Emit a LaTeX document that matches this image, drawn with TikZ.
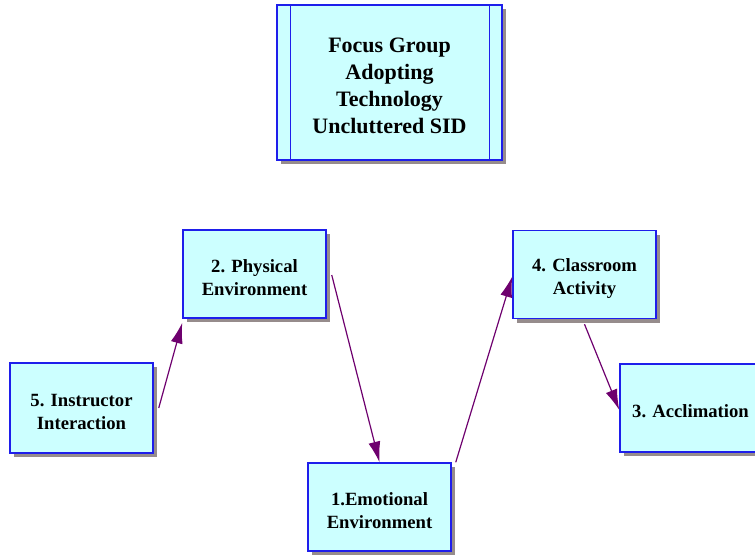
\documentclass[tikz,border=0pt]{standalone}
\usepackage{fontspec}
\setmainfont{Liberation Serif}
\usetikzlibrary{calc,shadows,arrows.meta}
\definecolor{boxfill}{RGB}{204,255,255}
\definecolor{boxline}{RGB}{30,30,235}
\definecolor{shade}{RGB}{150,140,140}
\definecolor{link}{RGB}{110,0,110}
\tikzset{
  sidbox/.style={draw=boxline, line width=1.1pt, fill=boxfill,
    minimum width=107.25pt, minimum height=66pt, align=center, inner sep=0pt,
    drop shadow={shadow xshift=3pt, shadow yshift=-3pt, fill=shade, opacity=1}},
  titlebox/.style={sidbox, minimum width=168.75pt, minimum height=116.25pt},
  flow/.style={draw=link, line width=0.9pt, -{Latex[length=15.5pt,width=9pt]}},
  lbl/.style={align=center, inner sep=0pt}
}
\begin{document}
\begin{tikzpicture}[x=0.75pt,y=-0.75pt]
\useasboundingbox (0,0) rectangle (755,554);
\clip (0,0) rectangle (755,554);

% title box with inner side rules
\node[titlebox] (title) at (389.5,82.5) {};
\node[lbl, font=\bfseries\fontsize{16.5}{20.25}\selectfont] (titletext) at ($(title.center)+(0,3)$) {Focus Group\\Adopting\\Technology\\Uncluttered SID};
\draw[boxline, line width=1.1pt] ($(title.north west)+(14,0)$) -- ($(title.south west)+(14,0)$);
\draw[boxline, line width=1.1pt] ($(title.north east)+(-13,0)$) -- ($(title.south east)+(-13,0)$);

% factor boxes (labels sit slightly below centre)
\node[sidbox] (phys) at (254.5,274) {};
\node[sidbox, minimum height=67.5pt] (instr) at (81.5,408) {};
\node[sidbox] (emot) at (379.5,507) {};
\node[sidbox] (class) at (584.5,274.5) {};
\node[sidbox] (accl) at (691.5,408) {};
\begin{scope}[every node/.style={lbl, font=\bfseries\fontsize{14}{17.25}\selectfont}]
\node (physt) at ($(phys.center)+(0,4)$) {2. Physical\\Environment};
\node (instrt) at ($(instr.center)+(0,4)$) {5. Instructor\\Interaction};
\node (emott) at ($(emot.center)+(0,4)$) {1.Emotional\\Environment};
\node (classt) at ($(class.center)+(0,4)$) {4. Classroom\\Activity};
\node (acclt) at ($(accl.center)+(-1,3)$) {3. Acclimation};
\end{scope}

% influence links
\draw[flow] ($(instr.east)+(5,0)$) -- ($(phys.south west)+(0,4)$);
\draw[flow] ($(phys.east)+(5,1)$) -- (emot.north);
\draw[flow] ($(emot.north east)+(4,0)$) -- ($(class.west)+(0,2)$);
\draw[flow] ($(class.south)+(0,5)$) -- ($(accl.west)+(0,2)$);
\end{tikzpicture}
\end{document}
